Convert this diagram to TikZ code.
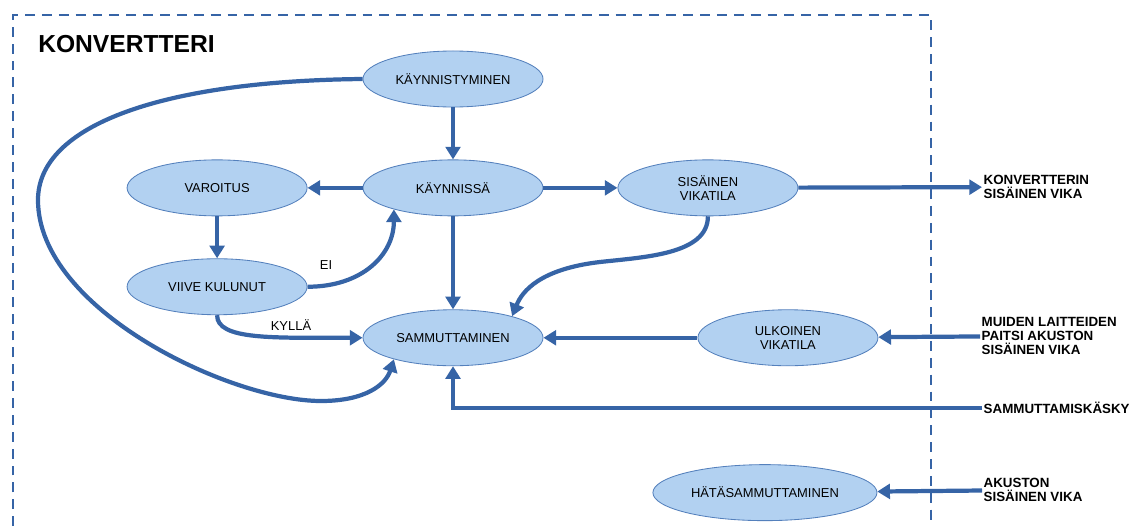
\documentclass[tikz,border=0pt]{standalone}
\usepackage{fontspec}
\setmainfont{Liberation Sans}
\usetikzlibrary{arrows.meta,positioning,shapes.geometric}
\definecolor{lineblue}{RGB}{54,100,166}
\definecolor{fillblue}{RGB}{178,209,241}
\definecolor{edgeblue}{RGB}{84,128,188}

\begin{document}
\begin{tikzpicture}[
  x=0.025cm,y=-0.025cm,
  font=\fontsize{9.2}{10}\selectfont,
  st/.style={ellipse,draw=edgeblue,line width=0.6pt,fill=fillblue,minimum width=4.5cm,
             minimum height=1.4cm,inner sep=1pt,align=center},
  sig/.style={font=\fontsize{9.5}{10}\selectfont\bfseries,align=left,inner sep=1pt,anchor=west},
  ar/.style={-{Triangle[length=9pt,width=10.5pt]},draw=lineblue,line width=3pt},
  frame/.style={draw=lineblue,line width=2pt,dash pattern=on 7pt off 5pt}
]
\useasboundingbox (0,0) rectangle (1136,526);
\draw[frame] (13,526) |- (931,15) -- (931,526);
\node[anchor=west,inner sep=0pt,font=\fontsize{17.5}{20}\selectfont\bfseries] (title) at (38,44) {KONVERTTERI};

% states
\node[st] (kst) at (453,79) {KÄYNNISTYMINEN};
\node[st,below=1.3cm of kst] (kn) {KÄYNNISSÄ};
\node[st,left=1.375cm of kn] (var) {VAROITUS};
\node[st,right=1.85cm of kn] (sis) {SISÄINEN\\VIKATILA};
\node[st,below=1.05cm of var] (vii) {VIIVE KULUNUT};
\node[st,below=2.325cm of kn] (sam) {SAMMUTTAMINEN};
\node[st,right=3.85cm of sam] (ulk) {ULKOINEN\\VIKATILA};
\node[st,minimum width=5.6cm,below=2.45cm of ulk,xshift=-0.575cm] (hata) {HÄTÄSAMMUTTAMINEN};

% signals
\node[sig] (kvika) at (982,187) {KONVERTTERIN\\SISÄINEN VIKA};
\node[sig] (muid) at (980,336) {MUIDEN LAITTEIDEN\\PAITSI AKUSTON\\SISÄINEN VIKA};
\node[sig] (cmd) at (982,408) {SAMMUTTAMISKÄSKY};
\node[sig] (akku) at (982,490) {AKUSTON\\SISÄINEN VIKA};

\draw[ar] (kst) -- (kn);
\draw[ar] (kn) -- (var);
\draw[ar] (kn) -- (sis);
\draw[ar] (sis) -- (kvika);
\draw[ar] (var) -- (vii);
\draw[ar] (kn) -- (sam);
\draw[ar] (ulk) -- (sam);
\draw[ar] (muid) -- (ulk);
\draw[ar] (akku) -- (hata);
\draw[ar] (cmd.west) -| (sam.south);

\draw[ar] (vii.east) .. controls +(55,0) and +(0,45) .. (kn.200);
\node (ei) at (326,265) {EI};
\draw[ar] (vii.south) .. controls +(0,25) and +(-90,0) .. (sam.west);
\node (kylla) at (291,325) {KYLLÄ};
\draw[ar] (sis.south) .. controls +(0,38) and +(45,-5) .. (600,262)
  .. controls +(-60,7) and +(10,-25) .. (sam.20);
\draw[ar] (kst.west) .. controls +(-200,2) and +(0,-75) .. (38,200)
  .. controls +(0,110) and +(-90,0) .. (321,401)
  .. controls +(45,0) and +(-8,25) .. (sam.200);
\end{tikzpicture}
\end{document}
